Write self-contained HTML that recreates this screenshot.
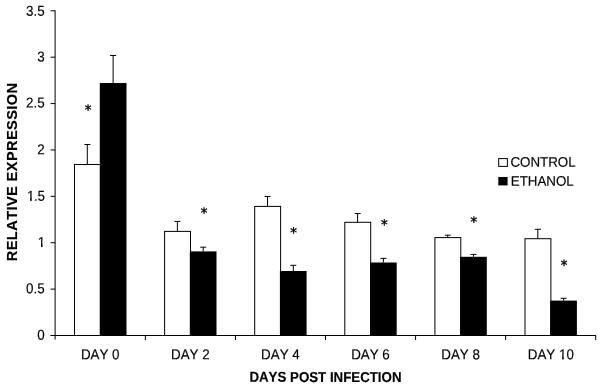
<!DOCTYPE html>
<html><head><meta charset="utf-8"><title>Relative expression</title>
<style>
html,body{margin:0;padding:0;background:#fff;}
svg{display:block;}
text{font-family:"Liberation Sans",Arial,sans-serif;fill:#000;font-kerning:none;}
.t{stroke:#000;stroke-width:0.15px;}
.st{font-family:"DejaVu Sans","Liberation Sans",sans-serif;stroke:#000;stroke-width:0.4px;}
.b{font-weight:bold;stroke:#000;stroke-width:0.15px;}
</style></head><body>
<svg width="602" height="388" viewBox="0 0 602 388">
<rect width="602" height="388" fill="#fff"/>
<rect x="74.5" y="164.5" width="25.9" height="171.00" fill="#fff" stroke="#000" stroke-width="1"/>
<rect x="99.8" y="83.0" width="26.7" height="252.50" fill="#000"/>
<path d="M87.3 164.5 V144.5 M84.35 144.5 H90.35" stroke="#000" stroke-width="1" fill="none"/>
<path d="M113.1 83.0 V55.5 M110.15 55.5 H116.10" stroke="#000" stroke-width="1" fill="none"/>
<rect x="164.6" y="231.4" width="25.9" height="104.10" fill="#fff" stroke="#000" stroke-width="1"/>
<rect x="189.8" y="251.4" width="26.7" height="84.10" fill="#000"/>
<path d="M177.4 231.4 V221.4 M174.45 221.4 H180.45" stroke="#000" stroke-width="1" fill="none"/>
<path d="M203.2 251.4 V247.2 M200.25 247.2 H206.20" stroke="#000" stroke-width="1" fill="none"/>
<rect x="254.7" y="206.4" width="25.9" height="129.10" fill="#fff" stroke="#000" stroke-width="1"/>
<rect x="279.9" y="271.0" width="26.7" height="64.50" fill="#000"/>
<path d="M267.5 206.4 V196.4 M264.55 196.4 H270.55" stroke="#000" stroke-width="1" fill="none"/>
<path d="M293.3 271.0 V265.3 M290.35 265.3 H296.30" stroke="#000" stroke-width="1" fill="none"/>
<rect x="344.8" y="222.3" width="25.9" height="113.20" fill="#fff" stroke="#000" stroke-width="1"/>
<rect x="370.0" y="262.5" width="26.7" height="73.00" fill="#000"/>
<path d="M357.6 222.3 V213.5 M354.65 213.5 H360.65" stroke="#000" stroke-width="1" fill="none"/>
<path d="M383.4 262.5 V258.4 M380.45 258.4 H386.40" stroke="#000" stroke-width="1" fill="none"/>
<rect x="434.9" y="237.6" width="25.9" height="97.90" fill="#fff" stroke="#000" stroke-width="1"/>
<rect x="460.1" y="256.8" width="26.7" height="78.70" fill="#000"/>
<path d="M447.7 237.6 V235.2 M444.75 235.2 H450.75" stroke="#000" stroke-width="1" fill="none"/>
<path d="M473.5 256.8 V254.4 M470.55 254.4 H476.50" stroke="#000" stroke-width="1" fill="none"/>
<rect x="525.0" y="238.7" width="25.9" height="96.80" fill="#fff" stroke="#000" stroke-width="1"/>
<rect x="550.2" y="300.6" width="26.7" height="34.90" fill="#000"/>
<path d="M537.8 238.7 V229.3 M534.85 229.3 H540.85" stroke="#000" stroke-width="1" fill="none"/>
<path d="M563.6 300.6 V298.3 M560.65 298.3 H566.60" stroke="#000" stroke-width="1" fill="none"/>
<path d="M55.1 10.3 V339.5" stroke="#000" stroke-width="1" fill="none"/>
<path d="M50.4 335.5 H596" stroke="#000" stroke-width="1" fill="none"/>
<text class="t" transform="translate(44.7 339.7) rotate(0.03) scale(0.935 1)" text-anchor="end" font-size="14.3" >0</text>
<path d="M50.6 289.11 H55.1" stroke="#000" stroke-width="1"/>
<text class="t" transform="translate(44.7 293.3) rotate(0.03) scale(0.935 1)" text-anchor="end" font-size="14.3" >0.5</text>
<path d="M50.6 242.73 H55.1" stroke="#000" stroke-width="1"/>
<text class="t" transform="translate(45.15 246.95) rotate(0.03) scale(0.935 1)" text-anchor="end" font-size="14.3" >1</text>
<path d="M50.6 196.34 H55.1" stroke="#000" stroke-width="1"/>
<text class="t" transform="translate(44.7 200.8) rotate(0.03) scale(0.935 1)" text-anchor="end" font-size="14.3" ><tspan dx="0.3">1</tspan><tspan dx="-0.45">.</tspan><tspan dx="-0.2">5</tspan></text>
<path d="M50.6 149.96 H55.1" stroke="#000" stroke-width="1"/>
<text class="t" transform="translate(44.7 154.2) rotate(0.03) scale(0.935 1)" text-anchor="end" font-size="14.3" >2</text>
<path d="M50.6 103.57 H55.1" stroke="#000" stroke-width="1"/>
<text class="t" transform="translate(44.7 107.6) rotate(0.03) scale(0.935 1)" text-anchor="end" font-size="14.3" >2.5</text>
<path d="M50.6 57.19 H55.1" stroke="#000" stroke-width="1"/>
<text class="t" transform="translate(44.7 61.6) rotate(0.03) scale(0.935 1)" text-anchor="end" font-size="14.3" >3</text>
<path d="M50.6 10.80 H55.1" stroke="#000" stroke-width="1"/>
<text class="t" transform="translate(44.7 15.75) rotate(0.03) scale(0.935 1)" text-anchor="end" font-size="14.3" >3.5</text>
<path d="M145.37 335.5 V340" stroke="#000" stroke-width="1"/>
<path d="M235.44 335.5 V340" stroke="#000" stroke-width="1"/>
<path d="M325.51 335.5 V340" stroke="#000" stroke-width="1"/>
<path d="M415.58 335.5 V340" stroke="#000" stroke-width="1"/>
<path d="M505.65 335.5 V340" stroke="#000" stroke-width="1"/>
<path d="M595.72 335.5 V340" stroke="#000" stroke-width="1"/>
<text class="t" transform="translate(100.2 359.2) rotate(0.03) scale(0.935 1)" text-anchor="middle" font-size="14.3" >DAY 0</text>
<text class="t" transform="translate(190.3 359.2) rotate(0.03) scale(0.935 1)" text-anchor="middle" font-size="14.3" >DAY 2</text>
<text class="t" transform="translate(280.4 359.2) rotate(0.03) scale(0.935 1)" text-anchor="middle" font-size="14.3" >DAY 4</text>
<text class="t" transform="translate(370.5 359.2) rotate(0.03) scale(0.935 1)" text-anchor="middle" font-size="14.3" >DAY 6</text>
<text class="t" transform="translate(460.6 359.2) rotate(0.03) scale(0.935 1)" text-anchor="middle" font-size="14.3" >DAY 8</text>
<text class="t" transform="translate(550.8 359.2) rotate(0.03) scale(0.935 1)" text-anchor="middle" font-size="14.3" >DAY 10</text>
<text class="st" transform="translate(88.0 114.67) rotate(0.03) scale(0.95 1)" text-anchor="middle" font-size="14" >*</text>
<text class="st" transform="translate(204.0 217.67) rotate(0.03) scale(0.95 1)" text-anchor="middle" font-size="14" >*</text>
<text class="st" transform="translate(293.65 237.49) rotate(0.03) scale(0.95 1)" text-anchor="middle" font-size="14" >*</text>
<text class="st" transform="translate(384.23 229.42) rotate(0.03) scale(0.95 1)" text-anchor="middle" font-size="14" >*</text>
<text class="st" transform="translate(473.73 226.66) rotate(0.03) scale(0.95 1)" text-anchor="middle" font-size="14" >*</text>
<text class="st" transform="translate(564.18 270.0) rotate(0.03) scale(0.95 1)" text-anchor="middle" font-size="14" >*</text>
<path d="M37 245H41.1V248H37Z M42.38 245H46V248H42.38Z" fill="#fff"/>
<path d="M41.1 244.5H42.38V247.0H41.1Z" fill="#000"/>
<path d="M26 199H30.32V202H26Z M31.6 199H34V202H31.6Z" fill="#fff"/>
<path d="M30.32 198.5H31.6V200.68H30.32Z" fill="#000"/>
<path d="M558 358H562.32V360H558Z M563.6 358H566V360H563.6Z" fill="#fff"/>
<path d="M562.32 357.5H563.6V359.22H562.32Z" fill="#000"/>
<text class="b" transform="translate(325.45 381.9) rotate(0.03) scale(0.93 1)" text-anchor="middle" font-size="14.3" >DAYS POST INFECTION</text>
<text class="b" transform="translate(16.5 261.2) rotate(-90) scale(1 1)" text-anchor="start" font-size="14.6" letter-spacing="0.4">RELATIVE EXPRESSION</text>
<rect x="498.7" y="158.6" width="8.7" height="7.8" fill="#fff" stroke="#000" stroke-width="1"/>
<rect x="498.3" y="177" width="9.3" height="8.4" fill="#000"/>
<text class="t" transform="translate(510.4 166.8) rotate(0.03) scale(0.953 1)" text-anchor="start" font-size="14.0" >CONTROL</text>
<text class="t" transform="translate(510.8 185.7) rotate(0.03) scale(0.953 1)" text-anchor="start" font-size="14.0" >ETHANOL</text>
</svg>
</body></html>
